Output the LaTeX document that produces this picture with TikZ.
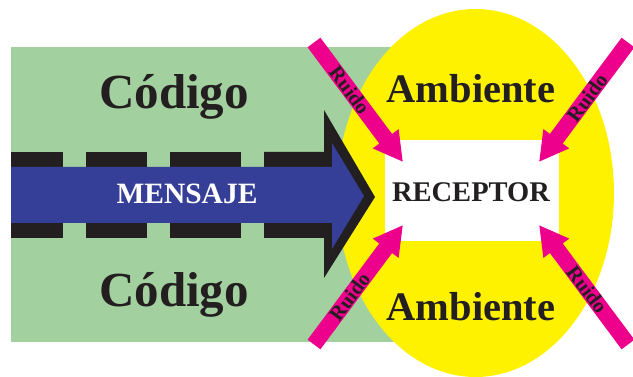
\documentclass[tikz,border=0pt]{standalone}
\usepackage{fontspec}
\setmainfont{Liberation Serif}
\usetikzlibrary{arrows.meta}
\definecolor{cgreen}{RGB}{162,208,158}
\definecolor{cyellow}{RGB}{255,242,0}
\definecolor{cblue}{RGB}{54,63,151}
\definecolor{cblack}{RGB}{35,31,32}
\definecolor{cpink}{RGB}{236,0,140}
\tikzset{
  bigword/.style={font=\fontsize{49}{49}\selectfont\bfseries, text=cblack, anchor=base, inner sep=0pt},
  ambword/.style={font=\fontsize{40.5}{40.5}\selectfont\bfseries, text=cblack, anchor=base, inner sep=0pt},
  noisearrow/.style={draw=cpink, line width=16pt, -{Triangle[width=30pt,length=29pt]}},
  noiselabel/.style={font=\fontsize{20.5}{20.5}\selectfont\bfseries, text=cblack, sloped, inner sep=0pt}
}
\begin{document}
\begin{tikzpicture}[x=1pt,y=-1pt]
\clip (0,0) rectangle (633,377);
\fill[white] (0,0) rectangle (633,377);
% green code area
\fill[cgreen] (11,47) rectangle (400,342);
% yellow environment
\fill[cyellow] (475.5,193) ellipse [x radius=138.5pt, y radius=184pt];
% receptor
\node[fill=white, minimum width=174pt, minimum height=101pt, inner sep=0pt] (rec) at (472,190.5) {};
\node[font=\fontsize{28.5}{28.5}\selectfont\bfseries, text=cblack, anchor=base, inner sep=0pt] (rectext) at (471,202) {RECEPTOR};
% black outline of message arrow
\fill[cblack] (11,152) rectangle (63,238);
\fill[cblack] (86,152) rectangle (147,238);
\fill[cblack] (170,152) rectangle (241,238);
\fill[cblack] (264,152) -- (324,152) -- (324,110) -- (375,197) -- (324,278) -- (324,238) -- (264,238) -- cycle;
% blue message arrow
\fill[cblue] (11,167) -- (332,167) -- (332,143) -- (364,196) -- (332,249) -- (332,223) -- (11,223) -- cycle;
\node[font=\fontsize{29.5}{29.5}\selectfont\bfseries, text=white, anchor=base, inner sep=0pt] (msg) at (187,204) {MENSAJE};
% words
\node[bigword] (cod1) at (174,109) {Código};
\node[bigword] (cod2) at (174,307) {Código};
\node[ambword] (amb1) at (471,103) {Ambiente};
\node[ambword] (amb2) at (471,321) {Ambiente};
% noise arrows
\coordinate (tl0) at (314,42.5);  \coordinate (tl1) at (403,162);
\coordinate (tr0) at (628,42.5);  \coordinate (tr1) at (539,162);
\coordinate (bl0) at (314,344.5); \coordinate (bl1) at (403,225);
\coordinate (br0) at (628,344.5); \coordinate (br1) at (539,225);
\draw[noisearrow] (tl0) -- (tl1) node[noiselabel, pos=0.40] {Ruido};
\draw[noisearrow] (tr0) -- (tr1) node[noiselabel, pos=0.46] {Ruido};
\draw[noisearrow] (bl0) -- (bl1) node[noiselabel, pos=0.40] {Ruido};
\draw[noisearrow] (br0) -- (br1) node[noiselabel, pos=0.46] {Ruido};
\end{tikzpicture}
\end{document}
